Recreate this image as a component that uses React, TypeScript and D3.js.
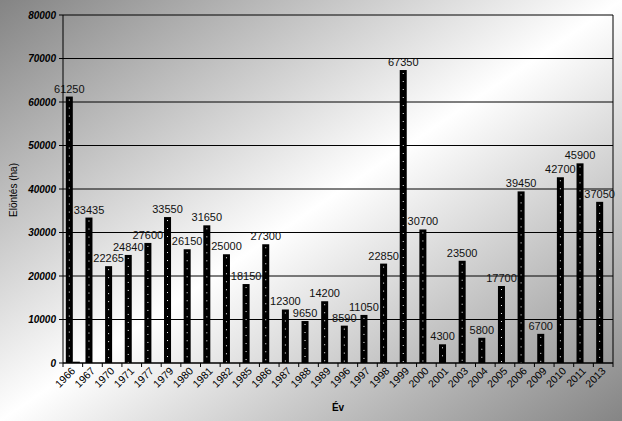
import React from "react";
import * as d3 from "d3";

const years = ["1966","1967","1970","1971","1977","1979","1980","1981","1982","1985","1986","1987","1988","1989","1996","1997","1998","1999","2000","2001","2003","2004","2005","2006","2009","2010","2011","2013"];
const values = [61250,33435,22265,24840,27600,33550,26150,31650,25000,18150,27300,12300,9650,14200,8590,11050,22850,67350,30700,4300,23500,5800,17700,39450,6700,42700,45900,37050];
const values2 = [300,0,0,0,0,0,0,0,0,0,0,0,0,0,0,0,0,0,0,0,0,0,0,0,0,0,0,0];
const yTicks = [0,10000,20000,30000,40000,50000,60000,70000,80000];

const W = 622, H = 421;
const m = { left: 63, right: 9, top: 15, bottom: 58 };

export default function App() {
  const x = d3.scaleBand<string>().domain(years).range([m.left, W - m.right]).paddingInner(0).paddingOuter(0);
  const y = d3.scaleLinear().domain([0, 80000]).range([H - m.bottom, m.top]);
  const bw = x.bandwidth();
  const barW = bw / 2.8;
  const gap = bw - 2 * barW;
  const font = "'Liberation Sans', Arial, sans-serif";
  const y0 = y(0);
  return (
    <div style={{ position: "fixed", left: 0, top: 0 }}>
      <svg width={W} height={H} style={{ display: "block" }} fontFamily={font}>
        <defs>
          <linearGradient id="bg" x1="0" y1="0" x2="1" y2="1">
            <stop offset="0" stopColor="#848484" />
            <stop offset="0.5" stopColor="#ffffff" />
            <stop offset="1" stopColor="#858585" />
          </linearGradient>
        </defs>
        <rect x={0} y={0} width={W} height={H} fill="url(#bg)" />
        {yTicks.map((t) => (
          <g key={t}>
            <line x1={m.left - 4} x2={W - m.right} y1={y(t)} y2={y(t)} stroke="#000" strokeWidth={1} />
            <text x={m.left - 7} y={y(t)} dy="0.35em" textAnchor="end" fontSize={10} fontWeight="bold" fontStyle="italic" fill="#000">{t}</text>
          </g>
        ))}
        <line x1={W - m.right} x2={W - m.right} y1={m.top} y2={y0} stroke="#000" />
        {years.map((yr, i) => {
          const bx = (x(yr) as number) + gap / 2;
          const top = y(values[i]);
          const cx = bx + barW / 2;
          return (
            <g key={yr}>
              <rect x={bx} y={top} width={barW} height={y0 - top} fill="#000" />
              <line x1={cx} x2={cx} y1={top + 3} y2={y0} stroke="#fff" strokeWidth={1} strokeDasharray="1 7" />
              {values2[i] > 0 && (
                <rect x={bx + barW} y={y(values2[i])} width={barW} height={y0 - y(values2[i])} fill="#000" />
              )}
              <text x={cx} y={top - 4} textAnchor="middle" fontSize={11} fill="#111">{values[i]}</text>
            </g>
          );
        })}
        <line x1={m.left} x2={m.left} y1={m.top} y2={y0} stroke="#000" />
        <line x1={m.left} x2={W - m.right} y1={y0} y2={y0} stroke="#000" />
        {[...years.map((yr) => x(yr) as number), W - m.right].map((tx, i) => (
          <line key={i} x1={tx} x2={tx} y1={y0} y2={y0 + 4} stroke="#000" />
        ))}
        {years.map((yr) => {
          const cx = (x(yr) as number) + gap / 2 + barW / 2 + 4;
          return (
            <text key={yr} transform={`translate(${cx},${y0 + 6}) rotate(-45)`} textAnchor="end" dy="0.35em" fontSize={10.5} fill="#000">{yr}</text>
          );
        })}
        <text x={(m.left + W - m.right) / 2} y={411} textAnchor="middle" fontSize={10} fontWeight="bold" fill="#000">Év</text>
        <text transform={`translate(17,190) rotate(-90)`} textAnchor="middle" fontSize={10} fill="#000">Elöntés (ha)</text>
      </svg>
    </div>
  );
}
